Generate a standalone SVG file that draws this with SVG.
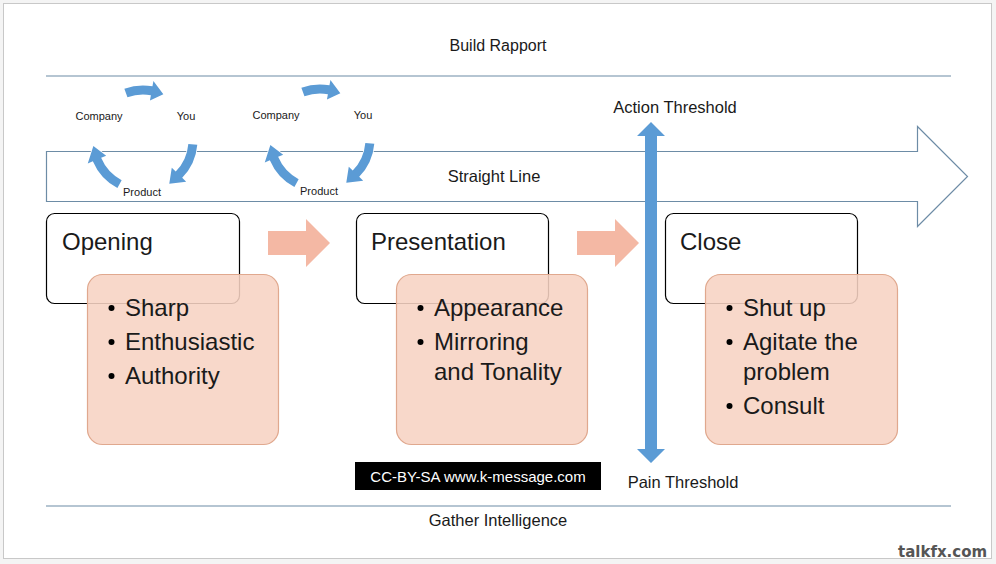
<svg xmlns="http://www.w3.org/2000/svg" width="996" height="564" viewBox="0 0 996 564">
<style>
.t{font-family:"Liberation Sans",Arial,sans-serif;fill:#1a1a1a}
.sm{font-size:11px}
.md{font-size:16px}
.lg{font-size:24px}
.rule{stroke:#6d8ca6;stroke-width:1.2;fill:none}
.box{fill:#fff;stroke:#000;stroke-width:1.2}
.peach{fill:#f7d3c3;fill-opacity:0.88;stroke:#e0a88e;stroke-width:1.2}
.blue{fill:#5b9bd5;stroke:#fff;stroke-width:1.5;paint-order:stroke}
.pink{fill:#f4b8a4}
</style>
<defs>
<g id="cycle">
<path class="blue" d="M124.36 88.79 A54.5 54.5 0 0 1 152.46 86.33 L153.42 80.91 L163.34 94.33 L149.94 100.61 L150.90 95.19 A45.5 45.5 0 0 0 127.44 97.24 Z"/>
<path class="blue" d="M197.29 144.75 A54.5 54.5 0 0 1 182.20 177.86 L186.16 181.68 L169.27 183.72 L171.77 167.79 L175.73 171.61 A45.5 45.5 0 0 0 188.33 143.97 Z"/>
<path class="blue" d="M117.41 188.12 A54.5 54.5 0 0 1 92.83 161.29 L87.77 163.44 L93.37 146.10 L106.18 155.63 L101.12 157.78 A45.5 45.5 0 0 0 121.64 180.17 Z"/>
<text class="t sm" x="99" y="120" text-anchor="middle">Company</text>
<text class="t sm" x="186" y="120" text-anchor="middle">You</text>
<text class="t sm" x="142" y="196" text-anchor="middle">Product</text>
</g>
<polygon id="pa" class="pink" points="268,231 306,231 306,219 330,243 306,267 306,255 268,255"/>
</defs>
<rect x="0" y="0" width="996" height="564" fill="#f4f4f4"/>
<rect x="3.5" y="3.5" width="988" height="555" fill="#fff" stroke="#c8c8c8" stroke-width="1"/>

<g id="rapport">
<line class="rule" x1="46" y1="76" x2="951" y2="76"/>
<text class="t md" x="498" y="51" text-anchor="middle">Build Rapport</text>
</g>
<g id="intelligence">
<line class="rule" x1="46" y1="506" x2="951" y2="506"/>
<text class="t" style="font-size:16.5px" x="498" y="526" text-anchor="middle">Gather Intelligence</text>
</g>
<g id="straight-line">
<path d="M46.5 151.5 H917.5 V126.5 L967.5 176.5 L917.5 226.5 V201.5 H46.5 Z" fill="#fff" stroke="#6d8ca6" stroke-width="1.2"/>
<text class="t" style="font-size:16.5px" x="494" y="182" text-anchor="middle">Straight Line</text>
</g>

<g id="cycle1"><use href="#cycle"/></g>
<g id="cycle2"><use href="#cycle" transform="translate(177,-1)"/></g>

<g id="opening">
<rect class="box" x="46.5" y="213.5" width="193" height="90" rx="8"/>
<text class="t lg" x="62" y="250">Opening</text>
<rect class="peach" x="87.5" y="274.5" width="191" height="170" rx="15"/>
<circle cx="111.5" cy="308" r="3"/><circle cx="111.5" cy="342" r="3"/><circle cx="111.5" cy="376" r="3"/>
<text class="t lg" x="125" y="316">Sharp</text>
<text class="t lg" x="125" y="350">Enthusiastic</text>
<text class="t lg" x="125" y="384">Authority</text>
</g>

<g id="presentation">
<rect class="box" x="356.5" y="213.5" width="192" height="90" rx="8"/>
<text class="t lg" x="371" y="250">Presentation</text>
<rect class="peach" x="396.5" y="274.5" width="191" height="170" rx="15"/>
<circle cx="420.5" cy="308" r="3"/><circle cx="420.5" cy="342" r="3"/>
<text class="t lg" x="434" y="316">Appearance</text>
<text class="t lg" x="434" y="350">Mirroring</text>
<text class="t lg" x="434" y="380">and Tonality</text>
</g>

<g id="close">
<rect class="box" x="665.5" y="213.5" width="192" height="90" rx="8"/>
<text class="t lg" x="680" y="250">Close</text>
<rect class="peach" x="705.5" y="274.5" width="192" height="170" rx="15"/>
<circle cx="729.5" cy="308" r="3"/><circle cx="729.5" cy="342" r="3"/><circle cx="729.5" cy="406" r="3"/>
<text class="t lg" x="743" y="316">Shut up</text>
<text class="t lg" x="743" y="350">Agitate the</text>
<text class="t lg" x="743" y="380">problem</text>
<text class="t lg" x="743" y="414">Consult</text>
</g>

<g id="connectors">
<use href="#pa"/>
<use href="#pa" transform="translate(309,0)"/>
<polygon fill="#5b9bd5" points="651,122 665,136 657,136 657,449 665,449 651,463 637,449 645,449 645,136 637,136"/>
</g>

<g id="thresholds">
<text class="t" style="font-size:16.5px" x="675" y="113" text-anchor="middle">Action Threshold</text>
<text class="t" style="font-size:16.5px" x="683" y="488" text-anchor="middle">Pain Threshold</text>
</g>

<g id="credit">
<rect x="355" y="462" width="246" height="28" fill="#000"/>
<text x="478" y="482" text-anchor="middle" style="font-family:'Liberation Sans',Arial,sans-serif;font-size:15px;fill:#fff">CC-BY-SA www.k-message.com</text>
</g>
<g id="watermark">
<text x="898" y="557" style="font-family:'DejaVu Sans',sans-serif;font-weight:bold;font-size:15px;fill:#555;stroke:#fff;stroke-width:2;paint-order:stroke">talkfx.com</text>
</g>
</svg>
